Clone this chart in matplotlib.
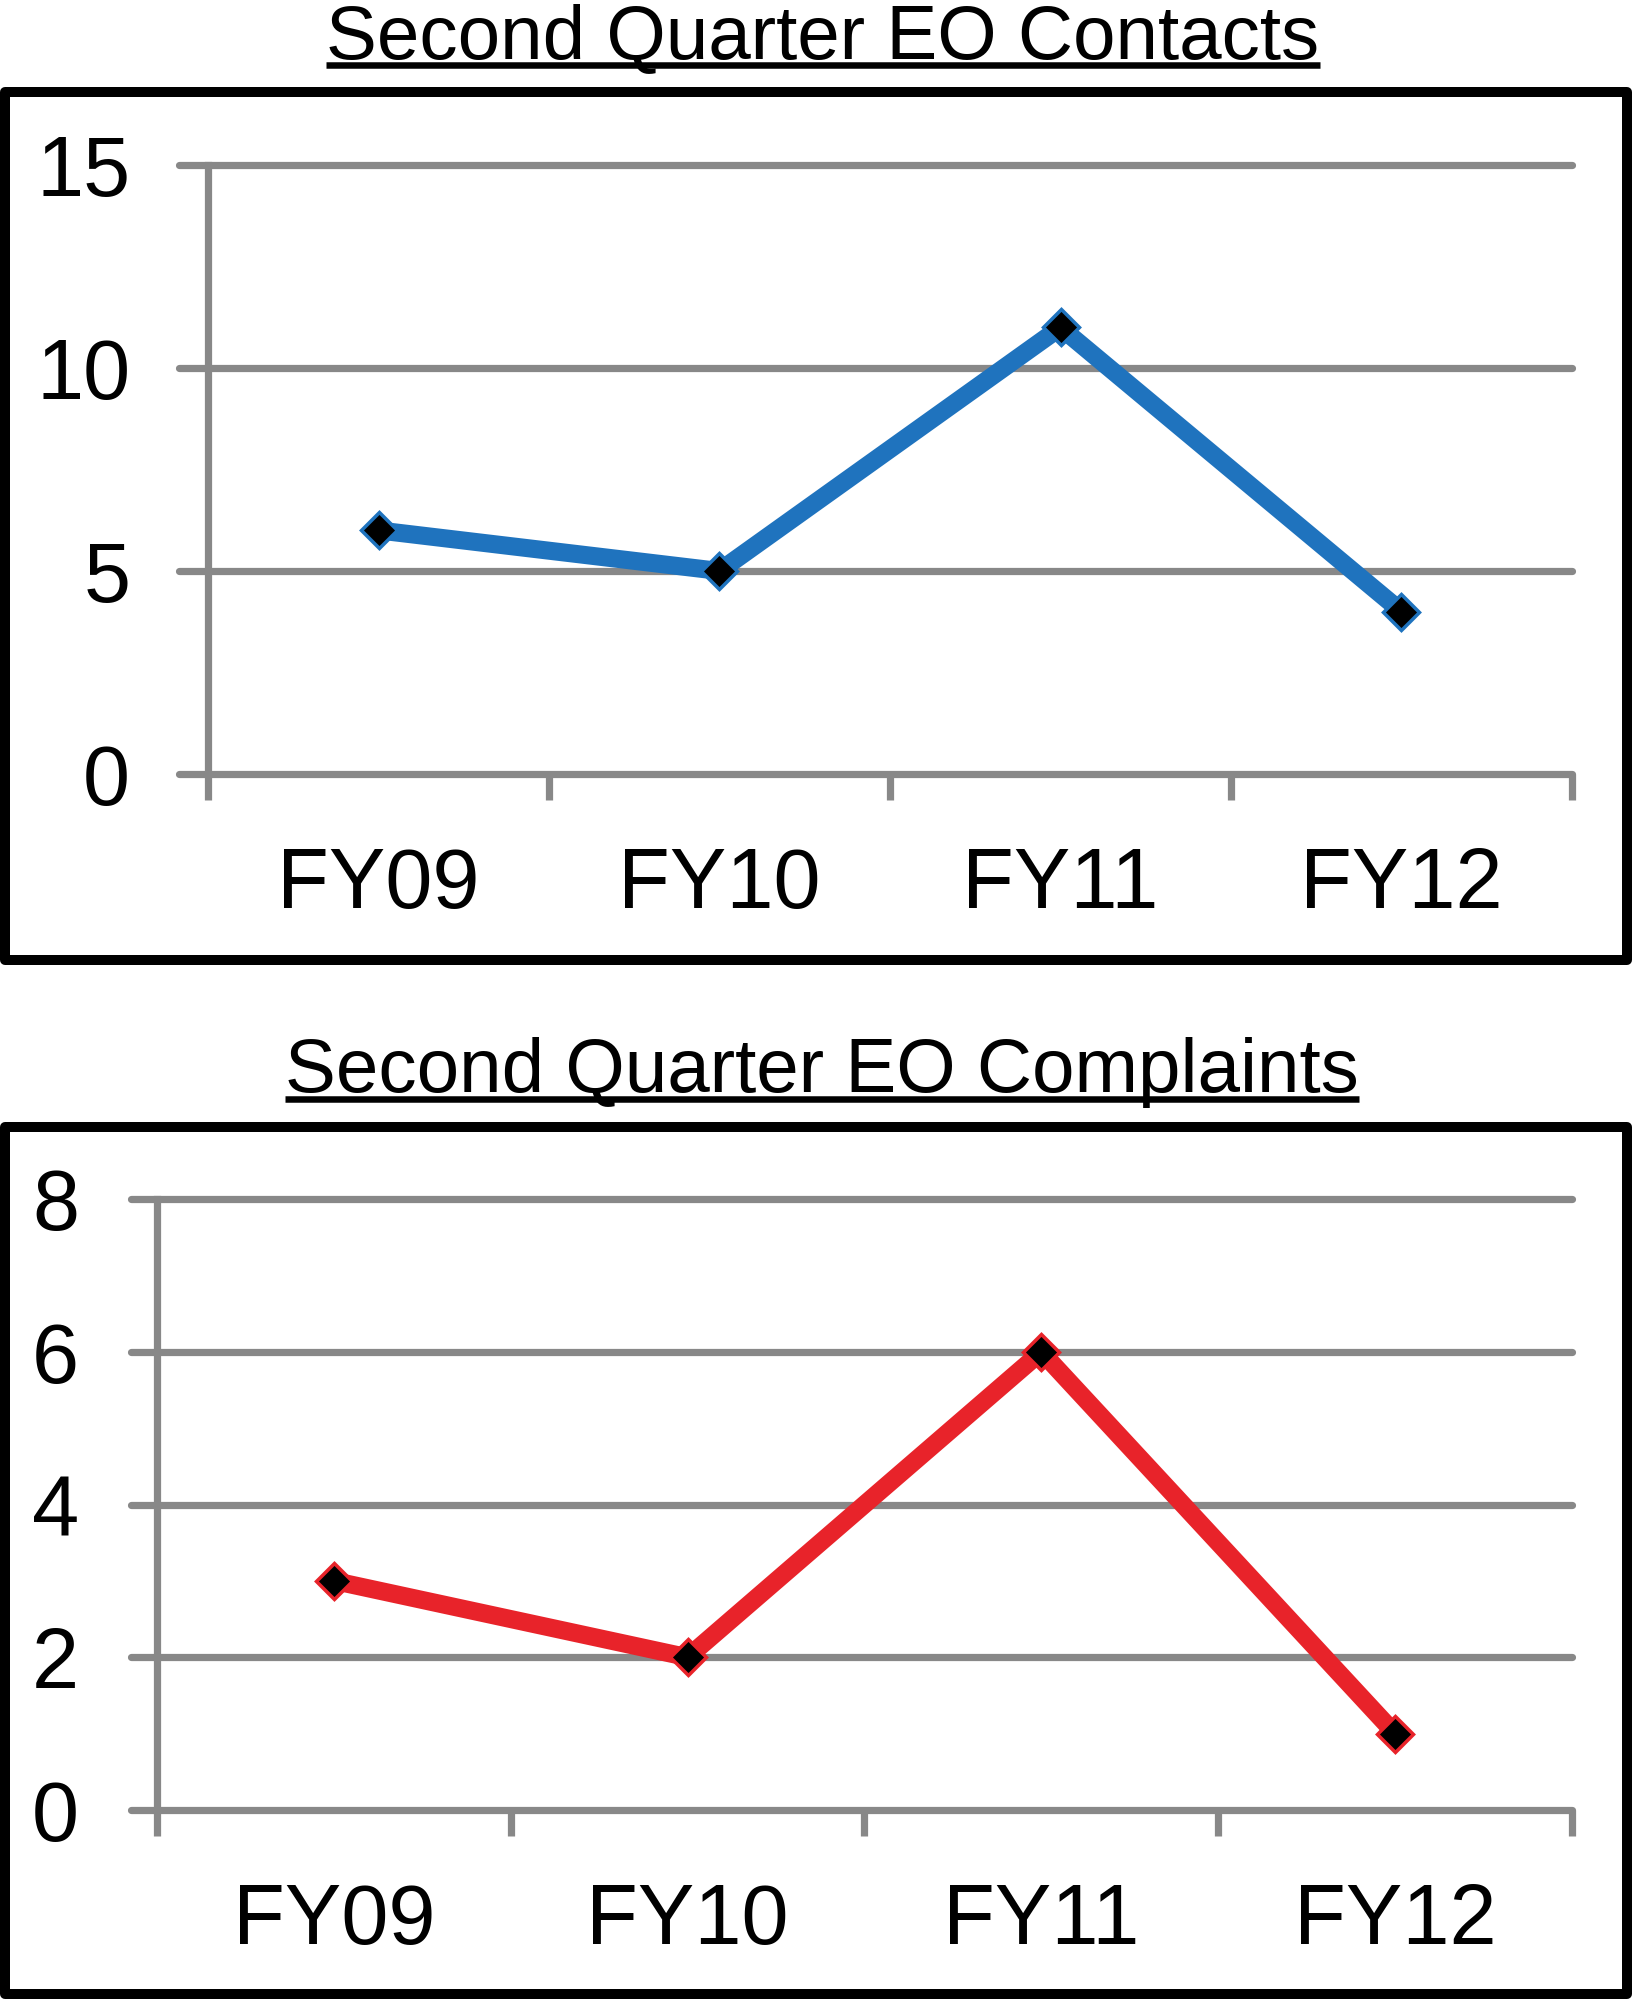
import matplotlib
matplotlib.use('Agg')
import matplotlib.pyplot as plt
from matplotlib.patches import Rectangle
from matplotlib.lines import Line2D
from matplotlib.transforms import IdentityTransform

# ---- data ----
categories = ['FY09', 'FY10', 'FY11', 'FY12']
contacts = [6, 5, 11, 4]
complaints = [3, 2, 6, 1]
contacts_ticks = [0, 5, 10, 15]
complaints_ticks = [0, 2, 4, 6, 8]
title_contacts = 'Second Quarter EO Contacts'
title_complaints = 'Second Quarter EO Complaints'

plt.rcParams['font.family'] = ['Liberation Sans', 'DejaVu Sans']

W, H = 1633, 2000
DPI = 100
fig = plt.figure(figsize=(W / DPI, H / DPI), dpi=DPI)
fig.patch.set_facecolor('white')

GRID = '#888888'
GRID_LW = 5.2
PT = DPI / 72.0


def rect_from_px(x0, y0, x1, y1):
    return [x0 / W, 1 - y1 / H, (x1 - x0) / W, (y1 - y0) / H]


def panel(rect, values, yticks, color, grid_ext_px, xtick_len_pt):
    ax = fig.add_axes(rect_from_px(*rect))
    ax.set_facecolor('none')
    n = len(values)
    xs = [i + 0.5 for i in range(n)]
    ax.set_xlim(0, n)
    ax.set_ylim(yticks[0], yticks[-1])
    ax_w_px = rect[2] - rect[0]
    ext = grid_ext_px / ax_w_px
    for t in yticks:
        ax.axhline(t, xmin=-ext, xmax=1, color=GRID, lw=GRID_LW,
                   solid_capstyle='round', clip_on=False, zorder=1)
    for s in ['top', 'right', 'bottom']:
        ax.spines[s].set_visible(False)
    ax.spines['left'].set_color(GRID)
    ax.spines['left'].set_linewidth(GRID_LW)
    ax.spines['left'].set_zorder(1.5)

    ax.set_yticks(yticks)
    ax.set_yticklabels([str(t) for t in yticks])
    ax.tick_params(axis='y', length=0, pad=56, labelsize=61, labelcolor='black')

    ax.set_xticks(xs)
    ax.set_xticklabels(categories)
    ax.set_xticks(list(range(n + 1)), minor=True)
    ax.tick_params(axis='x', which='major', length=0, pad=52, labelsize=61,
                   labelcolor='black')
    ax.tick_params(axis='x', which='minor', length=xtick_len_pt, width=GRID_LW,
                   color=GRID, direction='out')

    ax.plot(xs, values, color=color, lw=13, marker='D', ms=18,
            mfc='black', mec=color, mew=2.5, zorder=5, clip_on=False,
            solid_joinstyle='miter')
    return ax


ax1 = panel((208, 165, 1572, 774), contacts, contacts_ticks, '#1F73BE', 29, 19)
ax2 = panel((157, 1199, 1572, 1810), complaints, complaints_ticks, '#E8232A', 26, 19)

# boxes
for (x0, y0, x1, y1) in [(5, 92, 1627, 960), (5, 1127, 1627, 1994)]:
    fig.add_artist(Rectangle((x0 / W, 1 - y1 / H), (x1 - x0) / W, (y1 - y0) / H,
                             transform=fig.transFigure, fill=False,
                             edgecolor='black', linewidth=10 / PT,
                             joinstyle='round', zorder=3))

# titles
t1 = fig.text(823 / W, 1 - 58 / H, title_contacts, ha='center', va='baseline',
              fontsize=55, color='black')
t2 = fig.text(822 / W, 1 - 1092 / H, title_complaints, ha='center', va='baseline',
              fontsize=55, color='black')

fig.canvas.draw()
r = fig.canvas.get_renderer()
for t, off in [(t1, 7), (t2, 7)]:
    bb = t.get_window_extent(r)
    base_y = t.get_transform().transform(t.get_position())[1]
    yy = base_y - off
    fig.add_artist(Line2D([bb.x0, bb.x1], [yy, yy], transform=IdentityTransform(),
                          color='black', lw=6.5 / PT, solid_capstyle='butt'))

fig.savefig('out.png', dpi=DPI, facecolor='white')
